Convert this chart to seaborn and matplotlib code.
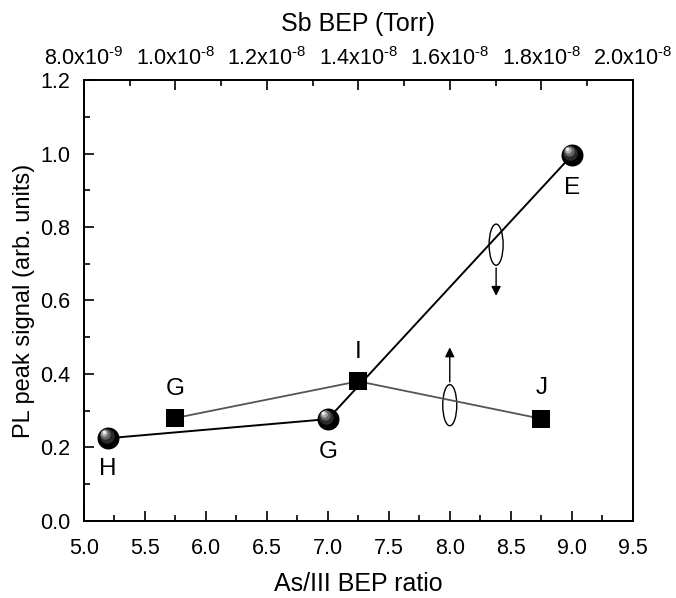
import matplotlib
matplotlib.use("Agg")
import matplotlib.pyplot as plt
import seaborn as sns
import numpy as np
import pandas as pd
from matplotlib.patches import Ellipse

# Data
ratio_x = [5.2, 7.0, 9.0]
ratio_y = [0.225, 0.277, 0.995]
ratio_labels = ["H", "G", "E"]

sb_x = [1.0e-8, 1.4e-8, 1.8e-8]
sb_y = [0.28, 0.38, 0.278]
sb_labels = ["G", "I", "J"]

bottom_ticks = [5.0, 5.5, 6.0, 6.5, 7.0, 7.5, 8.0, 8.5, 9.0, 9.5]
top_ticks = [8.0e-9, 1.0e-8, 1.2e-8, 1.4e-8, 1.6e-8, 1.8e-8, 2.0e-8]
top_tick_labels = [r"8.0x10$^{\text{-9}}$", r"1.0x10$^{\text{-8}}$", r"1.2x10$^{\text{-8}}$",
                   r"1.4x10$^{\text{-8}}$", r"1.6x10$^{\text{-8}}$", r"1.8x10$^{\text{-8}}$",
                   r"2.0x10$^{\text{-8}}$"]
y_ticks = [0.0, 0.2, 0.4, 0.6, 0.8, 1.0, 1.2]

sns.set_style("ticks")
plt.rcParams['font.family'] = ['Liberation Sans', 'DejaVu Sans']
plt.rcParams['mathtext.fontset'] = 'custom'
plt.rcParams['mathtext.rm'] = 'Liberation Sans'
plt.rcParams['mathtext.it'] = 'Liberation Sans'
plt.rcParams['mathtext.bf'] = 'Liberation Sans'
for k in ['text.color', 'axes.labelcolor', 'xtick.color', 'ytick.color', 'axes.edgecolor']:
    plt.rcParams[k] = 'black'

fig = plt.figure(figsize=(6.76, 5.98), dpi=100)
ax = fig.add_axes([0.124, 0.129, 0.812, 0.737])

df1 = pd.DataFrame({"x": ratio_x, "y": ratio_y})
sns.lineplot(data=df1, x="x", y="y", ax=ax, color="black", lw=1.4, zorder=2)
# sphere markers
sns.scatterplot(data=df1, x="x", y="y", ax=ax, s=250, color="black", edgecolor="black", linewidth=0, zorder=4)
for s, c, dx, dy in [(110, "#2a2a2a", -0.012, 0.006), (55, "#666666", -0.024, 0.011),
                     (22, "#aaaaaa", -0.032, 0.015), (6, "#f0f0f0", -0.036, 0.017)]:
    sns.scatterplot(x=np.array(ratio_x) + dx, y=np.array(ratio_y) + dy, ax=ax, s=s, color=c, linewidth=0, zorder=5)

ax.set_xlim(5.0, 9.5)
ax.set_ylim(0.0, 1.2)
ax.set_xticks(bottom_ticks)
ax.set_xticklabels([f"{t:.1f}" for t in bottom_ticks])
ax.set_yticks(y_ticks)
ax.set_yticklabels([f"{t:.1f}" for t in y_ticks])
ax.set_xticks(np.arange(5.25, 9.5, 0.5), minor=True)
ax.set_yticks(np.arange(0.1, 1.2, 0.2), minor=True)
ax.tick_params(axis="both", which="major", direction="in", length=7, width=1.2, labelsize=15.5, colors="black")
ax.tick_params(axis="both", which="minor", direction="in", length=4, width=1.2, colors="black")
ax.tick_params(axis="x", pad=12)
ax.tick_params(axis="y", pad=10)
ax.set_xlabel("As/III BEP ratio", fontsize=18, labelpad=10, color="black")
ax.set_ylabel("PL peak signal (arb. units)", fontsize=17, color="black")
ax.yaxis.set_label_coords(-0.089, 0.5)
for sp in ax.spines.values():
    sp.set_linewidth(1.3)
    sp.set_color("black")

ax2 = ax.twiny()
df2 = pd.DataFrame({"x": sb_x, "y": sb_y})
sns.lineplot(data=df2, x="x", y="y", ax=ax2, color="#555555", lw=1.3, zorder=2)
sns.scatterplot(data=df2, x="x", y="y", ax=ax2, marker="s", s=180, color="black", linewidth=0, zorder=4)
ax2.set_xlim(8.0e-9, 2.0e-8)
ax2.set_ylim(0.0, 1.2)
ax2.set_xticks(top_ticks)
ax2.set_xticklabels(top_tick_labels)
ax2.set_xticks(np.arange(9.0e-9, 2.0e-8, 2.0e-9), minor=True)
ax2.tick_params(axis="x", which="major", direction="in", length=7, width=1.2, labelsize=15.5, pad=7, colors="black")
ax2.tick_params(axis="x", which="minor", direction="in", length=4, width=1.2, colors="black")
ax2.set_xlabel("Sb BEP (Torr)", fontsize=18, labelpad=12, color="black")
ax2.set_ylabel("")
for sp in ax2.spines.values():
    sp.set_linewidth(1.3)
    sp.set_color("black")

# point labels
lab_off1 = [(0.0, -0.085), (0.0, -0.09), (0.0, -0.09)]
for x, y, t, (dx, dy) in zip(ratio_x, ratio_y, ratio_labels, lab_off1):
    ax.text(x + dx, y + dy, t, fontsize=17.5, ha="center", va="center", color="black")
lab_off2 = [(0.0, 0.08), (0.0, 0.08), (0.0, 0.085)]
for x, y, t, (dx, dy) in zip(sb_x, sb_y, sb_labels, lab_off2):
    ax2.text(x + dx, y + dy, t, fontsize=17.5, ha="center", va="center", color="black")

# ellipses with arrows (axis indicators)
e1 = Ellipse((8.38, 0.752), 0.115, 0.112, fill=False, lw=1.0, color="black", zorder=3)
ax.add_patch(e1)
ax.annotate("", xy=(8.38, 0.605), xytext=(8.38, 0.696),
            arrowprops=dict(arrowstyle="-|>", color="black", lw=1.0, mutation_scale=14))
e2 = Ellipse((8.0, 0.315), 0.115, 0.112, fill=False, lw=1.0, color="black", zorder=3)
ax.add_patch(e2)
ax.annotate("", xy=(8.0, 0.48), xytext=(8.0, 0.371),
            arrowprops=dict(arrowstyle="-|>", color="black", lw=1.0, mutation_scale=14))

fig.savefig("out.png", dpi=100)
